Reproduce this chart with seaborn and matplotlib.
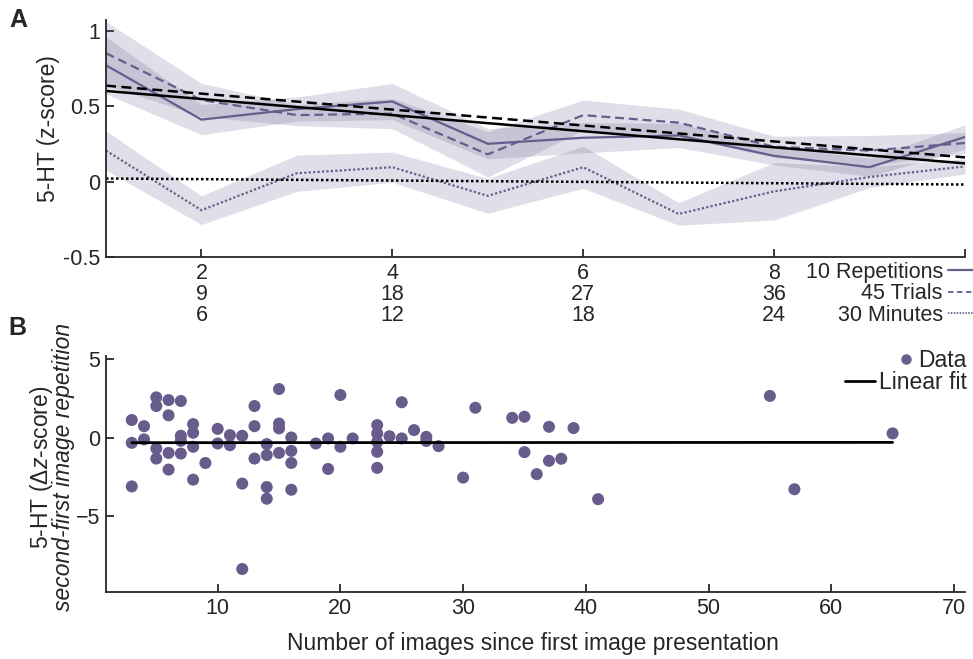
import numpy as np
import pandas as pd
import matplotlib
matplotlib.use("Agg")
import matplotlib.pyplot as plt
import seaborn as sns
from matplotlib.lines import Line2D

# ---------------- data ----------------
rep_x = [1, 2, 3, 4, 5, 6, 7, 8, 9, 10]
rep_mean = [0.77, 0.41, 0.48, 0.53, 0.25, 0.29, 0.305, 0.17, 0.095, 0.295]
rep_sem = [0.19, 0.10, 0.08, 0.12, 0.10, 0.10, 0.08, 0.06, 0.06, 0.08]
trials_mean = [0.85, 0.54, 0.44, 0.45, 0.18, 0.44, 0.39, 0.23, 0.205, 0.255]
trials_sem = [0.21, 0.11, 0.07, 0.10, 0.15, 0.10, 0.09, 0.07, 0.10, 0.07]
minutes_mean = [0.205, -0.19, 0.055, 0.095, -0.095, 0.095, -0.215, -0.065, 0.03, 0.10]
minutes_sem = [0.13, 0.095, 0.12, 0.10, 0.115, 0.14, 0.075, 0.19, 0.07, 0.05]
fit_x = [1, 10]
fit_rep = [0.60, 0.12]
fit_trials = [0.635, 0.16]
fit_minutes = [0.02, -0.02]
tick_rep = [2, 4, 6, 8]
tick_trials = [9, 18, 27, 36]
tick_minutes = [6, 12, 18, 24]
series_names = ["10 Repetitions", "45 Trials", "30 Minutes"]

scatter_x = [3, 3, 3, 4, 4, 5, 5, 5, 5, 6, 6, 6, 6, 7, 7, 7, 7, 8, 8, 8, 8, 9,
             10, 10, 11, 11, 12, 12, 12, 13, 13, 13, 14, 14, 14, 14, 15, 15, 15, 15,
             16, 16, 16, 16, 18, 19, 19, 20, 20, 21, 23, 23, 23, 23, 23, 24, 25, 25,
             26, 27, 27, 28, 30, 31, 34, 35, 37, 39, 35, 37, 38, 36, 41, 55, 57, 65]
scatter_y = [1.13, -0.32, -3.09, 0.74, -0.10, 2.57, 2.02, -0.68, -1.32, 2.40, 1.43, -0.96, -2.02,
             2.34, 0.13, -0.19, -1.00, 0.87, 0.32, -0.57, -2.66, -1.60,
             0.57, -0.36, 0.17, -0.47, 0.13, -2.91, -8.34, 2.02, 0.74, -1.32,
             -0.40, -1.10, -3.13, -3.87, 3.10, 0.91, 0.60, -0.96,
             0.02, -0.83, -1.60, -3.30, -0.36, -0.04, -1.98, 2.72, -0.57, -0.04,
             0.81, 0.28, -0.26, -0.89, -1.91, 0.10, 2.26, -0.04,
             0.49, 0.06, -0.20, -0.53, -2.53, 1.91, 1.27, 1.34, 0.70, 0.62,
             -0.91, -1.46, -1.33, -2.31, -3.90, 2.66, -3.27, 0.28]
linfit_x = [3, 65]
linfit_y = [-0.31, -0.29]

# ---------------- style ----------------
sns.set_style("ticks")
plt.rcParams['font.family'] = ['Liberation Sans', 'DejaVu Sans']
plt.rcParams['mathtext.fontset'] = 'custom'
plt.rcParams['mathtext.rm'] = 'Liberation Sans'
plt.rcParams['mathtext.it'] = 'Liberation Sans:italic'
plt.rcParams['axes.linewidth'] = 1.3
plt.rcParams['xtick.direction'] = 'in'
plt.rcParams['ytick.direction'] = 'in'
plt.rcParams['xtick.major.size'] = 5.5
plt.rcParams['ytick.major.size'] = 5.5
plt.rcParams['xtick.major.width'] = 1.3
plt.rcParams['ytick.major.width'] = 1.3

PURPLE = '#675c8c'
TICK_FS = 15.5
LAB_FS = 16.5

fig = plt.figure(figsize=(9.73, 6.59), dpi=100)
W, H = 973, 659
def fax(l, t, r, b):
    return fig.add_axes([l / W, 1 - b / H, (r - l) / W, (b - t) / H])

axA = fax(106, 20, 965, 257)
axB = fax(106, 356, 965, 592)

# ---------------- panel A ----------------
dfA = pd.DataFrame({
    'x': rep_x * 3,
    'y': rep_mean + trials_mean + minutes_mean,
    'series': np.repeat(series_names, len(rep_x)),
})
dash_map = {"10 Repetitions": "", "45 Trials": (4, 2.2), "30 Minutes": (1, 1)}
for m, s in [(rep_mean, rep_sem), (trials_mean, trials_sem), (minutes_mean, minutes_sem)]:
    m = np.array(m); s = np.array(s)
    axA.fill_between(rep_x, m - s, m + s, color=PURPLE, alpha=0.2, linewidth=0)
sns.lineplot(data=dfA, x='x', y='y', hue='series', style='series',
             palette={n: PURPLE for n in series_names}, dashes=dash_map,
             linewidth=1.6, ax=axA, legend=False)

dfF = pd.DataFrame({
    'x': fit_x * 3,
    'y': fit_rep + fit_trials + fit_minutes,
    'series': np.repeat(series_names, len(fit_x)),
})
sns.lineplot(data=dfF, x='x', y='y', hue='series', style='series',
             palette={n: 'black' for n in series_names}, dashes=dash_map,
             linewidth=1.8, ax=axA, legend=False)

axA.set_xlim(1, 10)
axA.set_ylim(-0.5, 1.07)
axA.set_yticks([-0.5, 0, 0.5, 1])
axA.set_yticklabels(['-0.5', '0', '0.5', '1'])
axA.set_xticks(tick_rep + [10])
axA.set_xticklabels([f"{a}\n{b}\n{c}" for a, b, c in zip(tick_rep, tick_trials, tick_minutes)] + [""],
                    linespacing=1.02)
axA.tick_params(axis='both', labelsize=TICK_FS, pad=4)
axA.set_xlabel('')
axA.set_ylabel('5-HT (z-score)', fontsize=LAB_FS)
axA.yaxis.set_label_coords(-0.053, 0.544)
sns.despine(ax=axA)

handlesA = [Line2D([], [], color=PURPLE, lw=1.6, linestyle='-'),
            Line2D([], [], color=PURPLE, lw=1.3, dashes=(3, 2)),
            Line2D([], [], color=PURPLE, lw=1.3, dashes=(0.8, 0.8))]
legA = fig.legend(handlesA, series_names, loc='upper right',
                  bbox_to_anchor=(973 / W, 1 - 262 / H), frameon=False,
                  markerfirst=False, fontsize=TICK_FS, handlelength=1.15,
                  handletextpad=0.25, labelspacing=0.02, borderpad=0, borderaxespad=0)

# ---------------- panel B ----------------
dfB = pd.DataFrame({'x': scatter_x, 'y': scatter_y})
sns.scatterplot(data=dfB, x='x', y='y', color=PURPLE, s=75, edgecolor='none',
                ax=axB, legend=False, zorder=3)
dfL = pd.DataFrame({'x': linfit_x, 'y': linfit_y})
sns.lineplot(data=dfL, x='x', y='y', color='black', linewidth=2.0, ax=axB, zorder=4)
axB.set_xlim(0.9, 70.9)
axB.set_ylim(-9.8, 5.2)
axB.set_xticks([10, 20, 30, 40, 50, 60, 70])
axB.set_yticks([-5, 0, 5])
axB.tick_params(axis='both', labelsize=TICK_FS, pad=4)
axB.set_xlabel('Number of images since first image presentation', fontsize=LAB_FS)
axB.xaxis.set_label_coords(0.4965, -0.17)
axB.set_ylabel('')
sns.despine(ax=axB)
label1 = r'5-HT ($\underline{\mathit{\Delta z}}$-score)'
t1 = axB.text(-0.0755, 0.53, label1, transform=axB.transAxes, rotation=90,
              ha='center', va='center', fontsize=LAB_FS)
axB.text(-0.0495, 0.53, 'second-first image repetition', transform=axB.transAxes,
         rotation=90, ha='center', va='center', fontsize=LAB_FS, style='italic')

hData = [Line2D([], [], color=PURPLE, marker='o', markersize=6.5, linestyle='none')]
hFit = [Line2D([], [], color='black', lw=2.0)]
legB1 = axB.legend(hData, ['Data'], loc='upper right',
                   bbox_to_anchor=(967 / W, 1 - 349 / H), bbox_transform=fig.transFigure,
                   frameon=False, fontsize=LAB_FS, handlelength=0.6,
                   handletextpad=0.25, borderpad=0, borderaxespad=0)
axB.add_artist(legB1)
axB.legend(hFit, ['Linear fit'], loc='upper right',
           bbox_to_anchor=(967 / W, 1 - 371 / H), bbox_transform=fig.transFigure,
           frameon=False, fontsize=LAB_FS, handlelength=1.3,
           handletextpad=0.2, borderpad=0, borderaxespad=0)

# panel letters
fig.text(9 / W, 1 - 8 / H, 'A', fontsize=18, fontweight='bold', ha='left', va='top')
fig.text(8 / W, 1 - 316 / H, 'B', fontsize=18, fontweight='bold', ha='left', va='top')

try:
    fig.savefig('out.png', dpi=100)
except Exception:
    t1.set_text(r'5-HT ($\mathit{\Delta z}$-score)')
    fig.savefig('out.png', dpi=100)
